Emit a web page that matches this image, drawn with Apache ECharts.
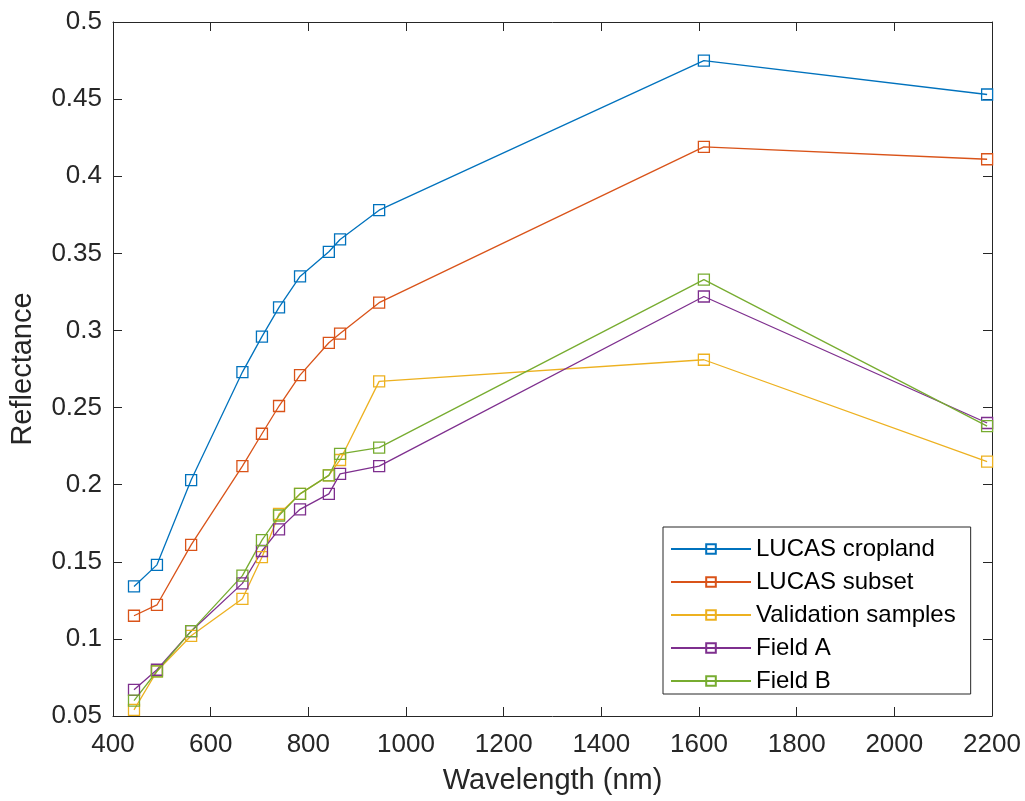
<!DOCTYPE html>
<html>
<head>
<meta charset="utf-8">
<title>Reflectance spectra</title>
<script src="https://cdn.jsdelivr.net/npm/echarts@6/dist/echarts.min.js"></script>
<style>
  html, body { margin: 0; padding: 0; background: #ffffff; }
  #chart { width: 1025px; height: 801px; }
</style>
</head>
<body>
<div id="chart"></div>
<script>
// Sentinel-2 band centre wavelengths (nm)
const wavelengths = [443, 490, 560, 665, 705, 740, 783, 842, 865, 945, 1610, 2190];

// Mean reflectance per band
const lucasCropland = [0.134, 0.148, 0.203, 0.273, 0.296, 0.315, 0.335, 0.351, 0.359, 0.378, 0.475, 0.453];
const lucasSubset   = [0.115, 0.122, 0.161, 0.212, 0.233, 0.251, 0.271, 0.292, 0.298, 0.318, 0.419, 0.411];
const validation    = [0.054, 0.079, 0.102, 0.126, 0.153, 0.181, 0.194, 0.206, 0.216, 0.267, 0.281, 0.215];
const fieldA        = [0.067, 0.080, 0.105, 0.136, 0.157, 0.171, 0.184, 0.194, 0.207, 0.212, 0.322, 0.240];
const fieldB        = [0.060, 0.079, 0.105, 0.141, 0.164, 0.180, 0.194, 0.206, 0.220, 0.224, 0.333, 0.238];

const seriesNames = ['LUCAS cropland', 'LUCAS subset', 'Validation samples', 'Field A', 'Field B'];
const seriesValues = [lucasCropland, lucasSubset, validation, fieldA, fieldB];
const colors = ['#0072BD', '#D95319', '#EDB120', '#7E2F8E', '#77AC30'];

const axisColor = '#262626';
const fontFamily = '"Liberation Sans", Arial, Helvetica, sans-serif';

function boxAxis(extra) {
  return Object.assign({
    type: 'value',
    axisLine: { show: true, onZero: false, lineStyle: { color: axisColor, width: 1 } },
    axisTick: { show: true, inside: true, length: 9, lineStyle: { color: axisColor, width: 1 } },
    splitLine: { show: false }
  }, extra);
}

const chart = echarts.init(document.getElementById('chart'), null, { renderer: 'canvas' });

const series = seriesNames.map((name, i) => ({
  name: name,
  type: 'line',
  xAxisIndex: 0,
  yAxisIndex: 0,
  data: wavelengths.map((w, j) => [w, seriesValues[i][j]]),
  symbol: 'rect',
  symbolSize: 11,
  showSymbol: true,
  clip: false,
  lineStyle: { color: colors[i], width: 1.3 },
  itemStyle: { color: 'rgba(0,0,0,0)', borderColor: colors[i], borderWidth: 1.3 },
  emphasis: { disabled: true },
  animation: false
}));

chart.setOption({
  backgroundColor: '#ffffff',
  animation: false,
  grid: { left: 113, top: 22, right: 33, bottom: 85, containLabel: false },
  xAxis: [
    boxAxis({
      position: 'bottom',
      min: 400, max: 2200, interval: 200,
      axisLabel: {
        show: true, margin: 16, color: axisColor, fontSize: 26, fontFamily: fontFamily,
        formatter: v => String(v)
      },
      name: 'Wavelength (nm)',
      nameLocation: 'middle',
      nameGap: 50,
      nameTextStyle: { color: axisColor, fontSize: 29, fontFamily: fontFamily }
    }),
    boxAxis({
      position: 'top',
      min: 400, max: 2200, interval: 200,
      axisLabel: { show: false }
    })
  ],
  yAxis: [
    boxAxis({
      position: 'left',
      min: 0.05, max: 0.5, interval: 0.05,
      axisLabel: { show: true, margin: 11, color: axisColor, fontSize: 26, fontFamily: fontFamily },
      name: 'Reflectance',
      nameLocation: 'middle',
      nameGap: 76,
      nameRotate: 90,
      nameTextStyle: { color: axisColor, fontSize: 29, fontFamily: fontFamily }
    }),
    boxAxis({
      position: 'right',
      min: 0.05, max: 0.5, interval: 0.05,
      axisLabel: { show: false }
    })
  ],
  legend: {
    orient: 'vertical',
    left: 663,
    top: 527,
    padding: [10, 15, 1, 7],
    itemWidth: 80,
    itemHeight: 12,
    itemGap: 9,
    backgroundColor: '#ffffff',
    borderColor: axisColor,
    borderWidth: 1,
    borderRadius: 0,
    selectedMode: false,
    textStyle: { color: '#000000', fontSize: 24, fontFamily: fontFamily, lineHeight: 24 },
    data: seriesNames
  },
  series: series
});
</script>
</body>
</html>
